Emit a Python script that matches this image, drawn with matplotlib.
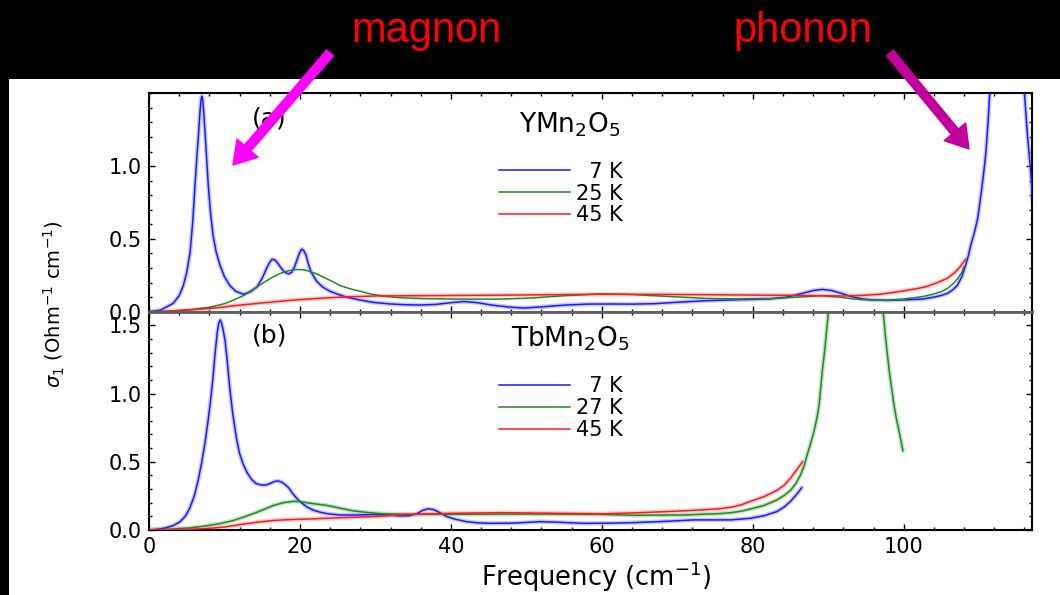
import matplotlib
matplotlib.use('Agg')
import matplotlib.pyplot as plt
from matplotlib.patches import Rectangle, FancyArrowPatch
from matplotlib.ticker import MultipleLocator

plt.rcParams['font.family'] = ['DejaVu Sans']
plt.rcParams['mathtext.fontset'] = 'dejavusans'

# ---- panel (a): YMn2O5, sigma_1 vs frequency (cm^-1) ----
ymn_7k_x = [0, 1.5, 3.2, 4.0, 4.55, 5.0, 5.45, 5.8, 6.1, 6.35, 6.55, 6.75, 6.9, 7.0, 7.1,
            7.25, 7.45, 7.65, 7.85, 8.15, 8.5, 8.9, 9.4, 10.0, 10.7, 11.5, 12.5, 13.4,
            14.3, 15.0, 15.6, 16.0, 16.3, 16.7, 17.1, 17.5, 18.0, 18.5, 18.9, 19.3, 19.7,
            20.0, 20.25, 20.5, 20.8, 21.1, 21.5, 22.2, 23.0, 24.0, 25.0, 26.2, 28.0, 29.7,
            32.0, 34.0, 36.0, 38.0, 40.0, 41.7, 43.5, 45.5, 47.5, 49.6, 52.0, 55.0, 58.0,
            61.0, 64.0, 67.0, 70.0, 73.5, 78.0, 82.0, 84.5, 86.5, 88.0, 89.2, 90.5, 91.8,
            93.0, 94.5, 96.0, 98.0, 100.5, 102.5, 104.0, 105.0, 105.8, 106.5, 107.1, 107.7,
            108.2, 108.6, 108.9, 109.4, 109.8, 110.1, 110.4, 110.7, 110.9, 111.2, 111.4,
            111.8, 112.3, 113.0, 113.7, 114.4, 115.0, 115.6, 116.0, 116.4, 116.8, 117.1]
ymn_7k_y = [0, 0.01, 0.057, 0.11, 0.18, 0.27, 0.41, 0.62, 0.87, 1.07, 1.21, 1.37, 1.46, 1.48, 1.46,
            1.37, 1.21, 1.04, 0.87, 0.68, 0.52, 0.41, 0.32, 0.24, 0.18, 0.14, 0.12, 0.135,
            0.17, 0.23, 0.30, 0.34, 0.36, 0.355, 0.33, 0.30, 0.27, 0.26, 0.27, 0.31, 0.37,
            0.41, 0.43, 0.42, 0.39, 0.33, 0.27, 0.21, 0.17, 0.14, 0.12, 0.10, 0.08, 0.064,
            0.053, 0.048, 0.046, 0.05, 0.062, 0.07, 0.062, 0.045, 0.033, 0.025, 0.033, 0.045, 0.052,
            0.053, 0.052, 0.055, 0.065, 0.075, 0.082, 0.087, 0.10, 0.125, 0.145, 0.153, 0.145, 0.125,
            0.105, 0.088, 0.08, 0.078, 0.082, 0.087, 0.10, 0.112, 0.126, 0.15, 0.18, 0.24,
            0.32, 0.39, 0.46, 0.55, 0.64, 0.75, 0.87, 1.0, 1.10, 1.32, 1.5,
            1.9, 2.6, 3.3, 3.6, 3.3, 2.6, 1.9, 1.5, 1.21, 0.98, 0.75]

ymn_25k_x = [0, 2.0, 4.0, 6.0, 8.0, 10.0, 11.2, 12.5, 14.3, 15.5, 16.5, 17.5, 18.5, 19.6,
             20.5, 21.4, 22.2, 23.2, 24.2, 25.3, 26.6, 28.0, 29.5, 31.0, 33.0, 36.0, 40.0,
             44.0, 47.0, 51.0, 55.0, 60.0, 64.0, 68.0, 73.5, 78.0, 82.4, 86.0, 89.0, 91.5,
             93.4, 95.5, 97.8, 99.7, 101.4, 102.8, 104.0, 105.0, 105.8, 106.5, 107.2, 107.7, 108.0]
ymn_25k_y = [0, 0.002, 0.008, 0.017, 0.03, 0.055, 0.08, 0.11, 0.17, 0.21, 0.24, 0.265, 0.282, 0.29,
             0.288, 0.275, 0.26, 0.235, 0.21, 0.18, 0.158, 0.14, 0.12, 0.107, 0.097, 0.09, 0.087,
             0.086, 0.087, 0.095, 0.11, 0.122, 0.118, 0.107, 0.092, 0.088, 0.09, 0.10, 0.11, 0.10,
             0.087, 0.08, 0.078, 0.085, 0.096, 0.107, 0.122, 0.138, 0.16, 0.19, 0.23, 0.27, 0.31]

ymn_45k_x = [0, 3.0, 6.0, 9.0, 12.0, 15.0, 18.7, 22.0, 25.3, 30.0, 36.0, 42.6, 50.0, 60.0,
             70.0, 78.0, 85.0, 89.0, 92.0, 94.5, 96.9, 99.0, 101.4, 103.0, 104.5, 105.8,
             106.8, 107.5, 108.2]
ymn_45k_y = [0, 0.005, 0.014, 0.027, 0.045, 0.06, 0.078, 0.09, 0.10, 0.108, 0.11, 0.112, 0.115, 0.12,
             0.118, 0.115, 0.112, 0.11, 0.108, 0.112, 0.12, 0.135, 0.155, 0.172, 0.20, 0.23,
             0.27, 0.31, 0.36]

# ---- panel (b): TbMn2O5 ----
tbm_7k_x = [0, 1.5, 2.3, 3.2, 4.1, 4.8, 5.4, 6.0, 6.5, 7.0, 7.4, 7.8, 8.1, 8.45, 8.75, 9.05,
            9.25, 9.45, 9.65, 9.85, 10.1, 10.4, 10.7, 11.1, 11.6, 12.0, 12.5, 13.0, 13.6,
            14.2, 14.9, 15.5, 16.0, 16.6, 17.1, 17.6, 18.0, 18.5, 19.0, 19.6, 20.2, 20.9,
            21.8, 22.7, 23.8, 25.3, 27.5, 29.7, 31.5, 33.3, 34.5, 35.5, 36.3, 37.0, 37.7,
            38.5, 39.5, 40.5, 42.1, 43.5, 45.2, 48.0, 51.9, 54.5, 57.6, 61.0, 64.2, 68.0,
            72.2, 77.1, 79.7, 81.5, 83.2, 84.2, 85.0, 85.8, 86.5]
tbm_7k_y = [0, 0.008, 0.017, 0.032, 0.06, 0.10, 0.16, 0.25, 0.36, 0.50, 0.63, 0.79, 0.92, 1.10, 1.29, 1.45,
            1.52, 1.54, 1.51, 1.46, 1.38, 1.22, 1.04, 0.85, 0.67, 0.56, 0.48, 0.42, 0.37,
            0.34, 0.33, 0.33, 0.34, 0.355, 0.36, 0.35, 0.335, 0.31, 0.27, 0.23, 0.20, 0.17,
            0.145, 0.13, 0.118, 0.11, 0.11, 0.113, 0.11, 0.103, 0.105, 0.12, 0.145, 0.155, 0.15,
            0.128, 0.098, 0.08, 0.061, 0.053, 0.049, 0.05, 0.061, 0.056, 0.049, 0.05, 0.054, 0.062,
            0.074, 0.074, 0.086, 0.105, 0.135, 0.17, 0.21, 0.26, 0.31]

tbm_27k_x = [0, 3.2, 5.5, 7.6, 9.5, 11.2, 12.8, 14.3, 15.5, 16.5, 17.8, 19.1, 20.0, 20.9,
             22.2, 23.6, 25.3, 27.1, 29.0, 30.7, 34.0, 40.0, 50.0, 59.8, 64.2, 70.9, 73.1,
             75.5, 77.1, 78.5, 79.7, 81.5, 83.2, 84.2, 85.0, 85.7, 86.3, 86.8, 87.2, 87.7,
             88.1, 88.5, 88.8, 89.0, 89.2, 89.5, 89.7, 90.0, 90.5, 91.2, 92.2, 93.6, 95.0,
             96.0, 96.7, 97.3, 97.6, 97.85, 98.1, 98.4, 98.7, 99.05, 99.4, 99.65, 99.9]
tbm_27k_y = [0, 0.007, 0.016, 0.03, 0.048, 0.07, 0.10, 0.13, 0.157, 0.18, 0.20, 0.21, 0.208, 0.20,
             0.19, 0.18, 0.16, 0.14, 0.128, 0.12, 0.116, 0.115, 0.117, 0.115, 0.108, 0.11, 0.115,
             0.12, 0.127, 0.138, 0.154, 0.18, 0.22, 0.255, 0.29, 0.34, 0.40, 0.47, 0.55, 0.64,
             0.72, 0.82, 0.92, 1.04, 1.16, 1.30, 1.41, 1.59, 1.95, 2.6, 3.3, 3.6, 3.3,
             2.6, 2.0, 1.59, 1.41, 1.28, 1.16, 1.04, 0.92, 0.81, 0.72, 0.65, 0.58]

tbm_45k_x = [0, 4.0, 7.6, 10.0, 12.1, 14.3, 16.5, 18.7, 20.9, 25.3, 30.7, 33.3, 40.0, 46.6,
             53.0, 59.8, 64.0, 68.7, 73.1, 75.5, 77.1, 78.5, 79.7, 81.5, 83.2, 84.2, 85.0,
             85.8, 86.6]
tbm_45k_y = [0, 0.004, 0.01, 0.022, 0.04, 0.057, 0.07, 0.076, 0.08, 0.09, 0.10, 0.112, 0.122, 0.127,
             0.123, 0.118, 0.125, 0.135, 0.147, 0.155, 0.167, 0.185, 0.21, 0.245, 0.29, 0.33, 0.38,
             0.44, 0.50]

labels_a = ['  7 K', '25 K', '45 K']
labels_b = ['  7 K', '27 K', '45 K']

BLUE, GREEN, RED = '#1a1aff', '#1f8a1f', '#ff1a1a'
W, H = 1060, 595


def fx(px):
    return px / W


def fy(py):
    return 1 - py / H


def curve(ax, x, y, color, halo=None):
    if halo:
        ax.plot(x, y, color=halo, lw=3.2, alpha=0.6, solid_capstyle='round', zorder=2)
    line, = ax.plot(x, y, color=color, lw=1.1, zorder=3)
    return line


def style_axes(ax, ymax, yticks):
    ax.set_xlim(0, 117)
    ax.set_ylim(0, ymax)
    ax.set_yticks(yticks)
    ax.xaxis.set_major_locator(MultipleLocator(20))
    ax.xaxis.set_minor_locator(MultipleLocator(4))
    ax.yaxis.set_minor_locator(MultipleLocator(0.1))
    ax.tick_params(which='both', direction='in', top=True, right=True, width=1)
    ax.tick_params(which='major', length=4.5, labelsize=15, pad=5)
    ax.tick_params(which='minor', length=2.5)
    for s in ax.spines.values():
        s.set_linewidth(1.5)


fig = plt.figure(figsize=(10.6, 5.95), dpi=100, facecolor='black')
fig.add_artist(Rectangle((fx(9), 0), 1 - fx(9), fy(79), transform=fig.transFigure,
                         facecolor='white', edgecolor='none', zorder=-1))

ax_a = fig.add_axes([fx(149), fy(311.7), (1032 - 149) / W, (311.7 - 93.3) / H])
ax_b = fig.add_axes([fx(149), fy(530), (1032 - 149) / W, (530 - 311.7) / H])

leg_kw = dict(loc='upper left', frameon=False, borderpad=0, borderaxespad=0,
              handlelength=3.4, handletextpad=0.33, labelspacing=0.09, fontsize=15)

# panel (a)
la = [curve(ax_a, ymn_7k_x, ymn_7k_y, BLUE, halo='#a8a8ff'),
      curve(ax_a, ymn_25k_x, ymn_25k_y, GREEN),
      curve(ax_a, ymn_45k_x, ymn_45k_y, RED, halo='#ffb0b0')]
style_axes(ax_a, 1.5, [0, 0.5, 1.0])
ax_a.set_yticklabels(['0.0', '0.5', '1.0'])
ax_a.tick_params(labelbottom=False)
ax_a.spines['bottom'].set_color('#606060')
ax_a.spines['bottom'].set_linewidth(2)
ax_a.text(0.136, 0.886, '(a)', transform=ax_a.transAxes, fontsize=18, ha='center', va='center')
ax_a.text(0.477, 0.855, 'YMn$_2$O$_5$', transform=ax_a.transAxes, fontsize=19,
          ha='center', va='center')
ax_a.legend(la, labels_a, bbox_to_anchor=(0.396, 0.687), **leg_kw)

# panel (b)
lb = [curve(ax_b, tbm_7k_x, tbm_7k_y, BLUE, halo='#a8a8ff'),
      curve(ax_b, tbm_27k_x, tbm_27k_y, GREEN, halo='#a0d0a0'),
      curve(ax_b, tbm_45k_x, tbm_45k_y, RED, halo='#ffb0b0')]
style_axes(ax_b, 1.6, [0, 0.5, 1.0, 1.5])
ax_b.set_yticklabels(['0.0', '0.5', '1.0', '1.5'])
ax_b.spines['top'].set_color('#606060')
ax_b.spines['top'].set_linewidth(2)
ax_b.text(0.136, 0.893, '(b)', transform=ax_b.transAxes, fontsize=18, ha='center', va='center')
ax_b.text(0.477, 0.875, 'TbMn$_2$O$_5$', transform=ax_b.transAxes, fontsize=19,
          ha='center', va='center')
ax_b.legend(lb, labels_b, bbox_to_anchor=(0.396, 0.704), **leg_kw)

fig.text(fx(54), fy(304), r'$\sigma_1$ (Ohm$^{-1}$ cm$^{-1}$)', rotation=90,
         fontsize=14, ha='center', va='center')
fig.text(fx(596), fy(577), r'Frequency (cm$^{-1}$)', fontsize=18.5, ha='center', va='center')

# annotations on the black band
fig.text(fx(426), fy(42), 'magnon', color='red', fontsize=30, family='Liberation Sans',
         ha='center', va='baseline')
fig.text(fx(803), fy(42), 'phonon', color='red', fontsize=30, family='Liberation Sans',
         ha='center', va='baseline')
arrow_style = 'simple,head_length=0.8,head_width=1.0,tail_width=0.32'
fig.add_artist(FancyArrowPatch((fx(330), fy(53)), (fx(233), fy(165)), transform=fig.transFigure,
                               arrowstyle=arrow_style, mutation_scale=20, color='#ff00ff',
                               shrinkA=0, shrinkB=0, zorder=10))
fig.add_artist(FancyArrowPatch((fx(890), fy(53)), (fx(969), fy(149)), transform=fig.transFigure,
                               arrowstyle=arrow_style, mutation_scale=20, color='#c4009c',
                               shrinkA=0, shrinkB=0, zorder=10))

fig.savefig('out.png', dpi=100, facecolor=fig.get_facecolor())
